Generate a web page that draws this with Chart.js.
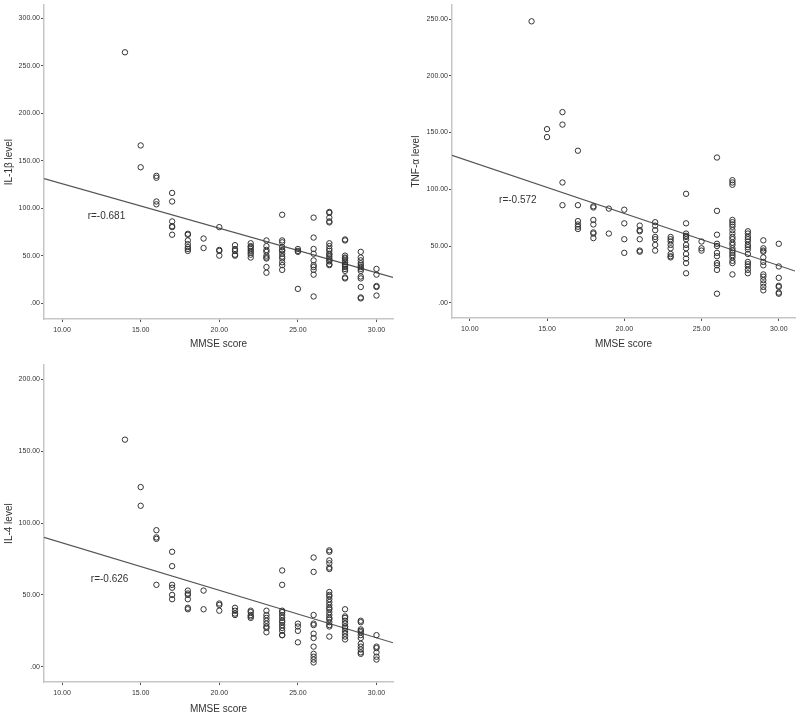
<!DOCTYPE html>
<html lang="en">
<head>
<meta charset="utf-8"/>
<title>MMSE score vs cytokine levels</title>
<script src="https://cdn.jsdelivr.net/npm/chart.js"></script>
<style>
  body {
    margin: 0;
    background: #fff;
  }
  .page {
    position: relative;
    width: 800px;
    height: 717px;
  }
  canvas {
    position: absolute;
  }
</style>
</head>
<body>
<div class="page">
  <canvas id="il1bChart" width="400" height="360" style="left:0;top:0"></canvas>
  <canvas id="tnfChart" width="400" height="360" style="left:400px;top:0"></canvas>
  <canvas id="il4Chart" width="400" height="357" style="left:0;top:360px"></canvas>
</div>
<script>
// MMSE scores (x) and the measured levels at each score
const scores = [14, 15, 16, 17, 18, 19, 20, 21, 22, 23, 24, 25, 26, 27, 28, 29, 30];

const il1b = [
  [264],
  [166, 143],
  [134, 132, 107, 104],
  [116, 107, 86, 81, 80, 72],
  [73, 72, 66, 62, 59, 57, 55],
  [68, 58],
  [80, 56, 55, 50],
  [61, 57, 55, 51, 50],
  [63, 60, 59, 57, 55, 53, 51, 48],
  [66, 60, 56, 54, 50, 48, 47, 38, 32],
  [93, 66, 64, 59, 56, 55, 52, 49, 47, 43, 40, 35],
  [57, 55, 54, 15],
  [90, 69, 57, 52, 45, 40, 38, 35, 30, 7],
  [96, 95, 90, 86, 85, 63, 60, 57, 55, 52, 51, 49, 47, 45, 44, 41, 40],
  [67, 66, 50, 48, 47, 45, 43, 41, 40, 38, 36, 34, 27, 26],
  [54, 48, 45, 42, 40, 38, 36, 34, 28, 26, 17, 6, 5],
  [36, 30, 18, 17, 8]
];

const tnfa = [
  [248],
  [153, 146],
  [168, 157, 106, 86],
  [134, 86, 72, 69, 67, 65],
  [85, 84, 73, 69, 62, 61, 57],
  [83, 61],
  [82, 70, 56, 44],
  [68, 64, 63, 56, 46, 45],
  [71, 68, 64, 58, 56, 51, 46],
  [58, 56, 54, 51, 48, 43, 41, 40],
  [96, 70, 61, 59, 58, 56, 51, 48, 43, 39, 35, 26],
  [54, 48, 46],
  [128, 81, 60, 52, 50, 44, 41, 35, 33, 29, 8],
  [108, 106, 104, 73, 71, 69, 67, 64, 61, 58, 56, 53, 51, 48, 46, 44, 42, 40, 37, 35, 25],
  [63, 61, 58, 56, 54, 51, 49, 47, 43, 36, 34, 32, 29, 26],
  [55, 48, 46, 45, 40, 36, 33, 25, 23, 20, 17, 14, 11],
  [52, 32, 22, 15, 14, 9, 8]
];

const il4 = [
  [158],
  [125, 112],
  [95, 90, 89, 57],
  [80, 70, 57, 55, 50, 47],
  [53, 51, 50, 47, 41, 40],
  [53, 40],
  [44, 43, 39],
  [41, 39, 37, 36],
  [39, 38, 36, 35, 34],
  [39, 36, 34, 32, 30, 28, 27, 24],
  [67, 57, 39, 38, 36, 34, 32, 31, 29, 27, 25, 22, 22],
  [30, 28, 25, 17],
  [76, 66, 36, 30, 29, 23, 20, 14, 9, 7, 5, 3],
  [81, 80, 74, 72, 69, 68, 52, 50, 49, 47, 45, 43, 41, 40, 38, 36, 34, 33, 31, 29, 28, 21],
  [40, 35, 34, 32, 30, 28, 27, 25, 23, 21, 19],
  [32, 31, 26, 25, 24, 22, 20, 16, 14, 12, 10, 9],
  [22, 14, 13, 10, 7, 5]
];

// fit line end points
const fitX = [8.85, 31.05];
const fitIl1b = [131, 27];
const fitTnfa = [130, 28];
const fitIl4 = [90, 16.7];

const xTicks = [10, 15, 20, 25, 30];
const yTicksIl1b = [0, 50, 100, 150, 200, 250, 300];
const yTicksTnfa = [0, 50, 100, 150, 200, 250];
const yTicksIl4 = [0, 50, 100, 150, 200];

const rLabels = ['r=-0.681', 'r=-0.572', 'r=-0.626'];
// where the r label sits, in data units [x, y]
const rPos = [[11.63, 91], [11.9, 90], [11.83, 61]];

const fontFam = "'Liberation Sans', Arial, sans-serif";

function toPoints(vals) {
  return scores.flatMap((s, i) => vals[i].map(v => ({ x: s, y: v })));
}

function fmt(v) {
  return v === 0 ? '.00' : v.toFixed(2);
}

function makeChart(id, opts) {
  const rPlugin = {
    id: 'rLabel',
    afterDatasetsDraw(chart) {
      const ctx = chart.ctx;
      const px = chart.scales.x.getPixelForValue(opts.rAt[0]);
      const py = chart.scales.y.getPixelForValue(opts.rAt[1]);
      ctx.save();
      ctx.font = '10px ' + fontFam;
      ctx.fillStyle = '#333';
      ctx.textBaseline = 'middle';
      ctx.fillText(opts.rText, px, py);
      ctx.restore();
    }
  };

  new Chart(document.getElementById(id), {
    type: 'scatter',
    data: {
      datasets: [{
        data: toPoints(opts.values),
        pointStyle: 'circle',
        pointRadius: 2.7,
        pointBorderWidth: 1,
        pointBorderColor: '#333',
        pointBackgroundColor: 'rgba(0,0,0,0)'
      }, {
        type: 'line',
        data: fitX.map((x, i) => ({ x: x, y: opts.fit[i] })),
        borderColor: '#555',
        borderWidth: 1.2,
        pointRadius: 0,
        fill: false
      }]
    },
    options: {
      responsive: false,
      animation: false,
      devicePixelRatio: 1,
      layout: { padding: opts.padding },
      plugins: {
        legend: { display: false },
        tooltip: { enabled: false }
      },
      scales: {
        x: {
          type: 'linear',
          min: fitX[0],
          max: fitX[1],
          afterBuildTicks: axis => { axis.ticks = xTicks.map(v => ({ value: v })); },
          afterFit: axis => { axis.height = opts.xHeight; },
          grid: { drawOnChartArea: false, drawTicks: true, tickLength: 3, tickColor: '#555' },
          border: { display: true, color: '#c6c6c6', width: 1.5 },
          ticks: {
            padding: 4,
            color: '#333',
            font: { size: 7, family: fontFam },
            callback: v => fmt(v)
          },
          title: {
            display: true,
            text: 'MMSE score',
            color: '#333',
            font: { size: 10, family: fontFam },
            padding: { top: 0, bottom: opts.xTitlePad }
          }
        },
        y: {
          min: opts.yMin,
          max: opts.yMax,
          afterBuildTicks: axis => { axis.ticks = opts.yTicks.map(v => ({ value: v })); },
          afterFit: axis => { axis.width = opts.yWidth; },
          grid: { drawOnChartArea: false, drawTicks: true, tickLength: 3, tickColor: '#555' },
          border: { display: true, color: '#c6c6c6', width: 1.5 },
          ticks: {
            padding: 1,
            color: '#333',
            font: { size: 7, family: fontFam },
            callback: v => fmt(v)
          },
          title: {
            display: true,
            text: opts.yTitle,
            color: '#333',
            font: { size: 10, family: fontFam },
            padding: { top: opts.yTitlePad, bottom: 0 }
          }
        }
      }
    },
    plugins: [rPlugin]
  });
}

makeChart('il1bChart', {
  values: il1b, fit: fitIl1b, yTicks: yTicksIl1b,
  yMin: -16.7, yMax: 313.6, yTitle: 'IL-1β level',
  padding: { left: 0, right: 7, top: 3, bottom: 0 },
  yWidth: 44, xHeight: 41, xTitlePad: 10, yTitlePad: 3,
  rText: rLabels[0], rAt: rPos[0]
});

makeChart('tnfChart', {
  values: tnfa, fit: fitTnfa, yTicks: yTicksTnfa,
  yMin: -13.4, yMax: 262.2, yTitle: 'TNF-α level',
  padding: { left: 0, right: 0, top: 3, bottom: 0 },
  yWidth: 52, xHeight: 42, xTitlePad: 10, yTitlePad: 10,
  rText: rLabels[1], rAt: rPos[1]
});

makeChart('il4Chart', {
  values: il4, fit: fitIl4, yTicks: yTicksIl4,
  yMin: -10.6, yMax: 209.8, yTitle: 'IL-4 level',
  padding: { left: 0, right: 7, top: 5, bottom: 0 },
  yWidth: 44, xHeight: 35, xTitlePad: 2, yTitlePad: 3,
  rText: rLabels[2], rAt: rPos[2]
});
</script>
</body>
</html>
